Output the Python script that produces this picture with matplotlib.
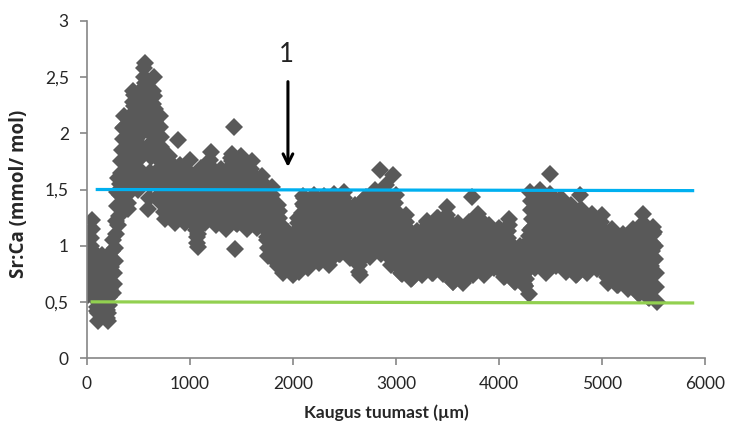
import numpy as np
import matplotlib
matplotlib.use("Agg")
import matplotlib.pyplot as plt

plt.rcParams['font.family'] = ['Lato', 'DejaVu Sans']

# Sr:Ca (mmol/mol) along the transect, one spot every 5 um starting at 5 um
# (one line = 100 um)
sr_ca = [
    0.56, 0.64, 0.71, 0.78, 0.86, 0.93, 1.00, 1.07, 1.15, 1.23, 0.95, 0.89, 0.83, 0.76, 0.70, 0.64, 0.58, 0.52, 0.45, 0.42,
    0.33, 0.40, 0.46, 0.53, 0.60, 0.66, 0.72, 0.79, 0.85, 0.92, 0.90, 0.83, 0.76, 0.70, 0.63, 0.56, 0.50, 0.43, 0.36, 0.33,
    0.40, 0.47, 0.54, 0.61, 0.68, 0.74, 0.81, 0.88, 0.95, 1.05, 0.58, 0.66, 0.76, 0.86, 0.98, 1.10, 1.22, 1.35, 1.48, 1.60,
    1.18, 1.26, 1.35, 1.45, 1.55, 1.65, 1.75, 1.85, 1.95, 2.05, 2.15, 2.06, 1.96, 1.86, 1.77, 1.67, 1.57, 1.48, 1.38, 1.33,
    1.47, 1.57, 1.67, 1.78, 1.88, 1.97, 2.07, 2.17, 2.28, 2.38, 2.34, 2.24, 2.14, 2.04, 1.94, 1.85, 1.75, 1.65, 1.55, 1.50,
    1.57, 1.67, 1.78, 1.88, 1.99, 2.08, 2.19, 2.29, 2.40, 2.50, 2.58, 2.63, 2.45, 2.34, 2.24, 2.13, 2.03, 1.33, 1.83, 1.62,
    1.42, 1.54, 1.66, 1.79, 1.91, 2.02, 2.14, 2.26, 2.38, 2.50, 2.33, 2.22, 2.11, 2.00, 1.89, 1.78, 1.67, 1.56, 1.45, 1.40,
    2.15, 2.06, 1.97, 1.88, 1.79, 1.70, 1.60, 1.50, 1.40, 1.30, 1.24, 1.30, 1.37, 1.43, 1.50, 1.56, 1.62, 1.69, 1.75, 1.80,
    1.67, 1.62, 1.56, 1.51, 1.45, 1.39, 1.34, 1.28, 1.23, 1.20, 1.22, 1.28, 1.34, 1.40, 1.46, 1.52, 1.94, 1.60, 1.66, 1.72,
    1.65, 1.60, 1.55, 1.49, 1.44, 1.39, 1.33, 1.28, 1.23, 1.20, 1.22, 1.27, 1.33, 1.38, 1.44, 1.49, 1.55, 1.60, 1.66, 1.76,
    1.61, 1.56, 1.51, 1.46, 1.41, 1.36, 1.31, 1.26, 1.21, 1.18, 1.20, 1.14, 1.08, 1.02, 0.99, 1.10, 1.25, 1.38, 1.50, 1.63,
    1.69, 1.63, 1.58, 1.52, 1.46, 1.40, 1.34, 1.29, 1.23, 1.20, 1.22, 1.29, 1.36, 1.43, 1.50, 1.56, 1.63, 1.70, 1.76, 1.83,
    1.70, 1.64, 1.58, 1.52, 1.46, 1.41, 1.35, 1.29, 1.23, 1.20, 1.18, 1.24, 1.29, 1.35, 1.40, 1.46, 1.51, 1.57, 1.62, 1.68,
    1.63, 1.58, 1.52, 1.46, 1.41, 1.35, 1.29, 1.24, 1.18, 1.15, 1.18, 1.25, 1.32, 1.38, 1.45, 1.51, 1.58, 1.65, 1.71, 1.78,
    1.82, 1.75, 1.68, 1.61, 1.54, 2.06, 0.97, 1.40, 1.30, 1.20, 1.19, 1.26, 1.33, 1.40, 1.46, 1.53, 1.60, 1.67, 1.73, 1.80,
    1.77, 1.70, 1.63, 1.55, 1.48, 1.41, 1.33, 1.26, 1.19, 1.15, 1.16, 1.23, 1.29, 1.36, 1.43, 1.49, 1.55, 1.62, 1.68, 1.75,
    1.64, 1.59, 1.53, 1.47, 1.42, 1.36, 1.30, 1.25, 1.19, 1.16, 1.17, 1.22, 1.27, 1.32, 1.37, 1.42, 1.47, 1.52, 1.57, 1.62,
    1.55, 1.49, 1.43, 1.37, 1.31, 1.26, 1.20, 1.14, 1.08, 1.05, 0.91, 0.98, 1.05, 1.12, 1.19, 1.25, 1.32, 1.38, 1.45, 1.52,
    1.40, 1.33, 1.26, 1.19, 1.12, 1.06, 0.99, 0.92, 0.85, 0.82, 1.36, 1.31, 1.25, 1.19, 1.13, 1.07, 1.00, 0.94, 0.86, 0.78,
    0.76, 0.80, 0.84, 0.88, 0.92, 0.96, 1.00, 1.04, 1.08, 1.12, 1.11, 1.07, 1.02, 0.98, 0.93, 0.89, 0.85, 0.80, 0.76, 0.74,
    0.76, 0.82, 0.87, 0.93, 0.98, 1.03, 1.09, 1.14, 1.20, 1.25, 0.77, 0.85, 0.92, 1.00, 1.07, 1.14, 1.22, 1.29, 1.37, 1.44,
    1.42, 1.35, 1.28, 1.20, 1.13, 1.06, 0.98, 0.91, 0.84, 0.80, 0.85, 0.92, 0.99, 1.05, 1.12, 1.18, 1.25, 1.32, 1.38, 1.45,
    1.40, 1.34, 1.27, 1.21, 1.15, 1.08, 1.02, 0.96, 0.89, 0.86, 0.85, 0.92, 0.98, 1.05, 1.12, 1.18, 1.24, 1.31, 1.37, 1.44,
    1.41, 1.34, 1.27, 1.20, 1.13, 1.07, 1.00, 0.93, 0.86, 0.83, 0.87, 0.94, 1.00, 1.07, 1.14, 1.20, 1.26, 1.33, 1.39, 1.46,
    1.40, 1.35, 1.29, 1.24, 1.18, 1.12, 1.07, 1.01, 0.96, 0.93, 0.93, 0.99, 1.05, 1.12, 1.18, 1.23, 1.30, 1.36, 1.42, 1.48,
    1.38, 1.33, 1.27, 1.21, 1.16, 1.10, 1.04, 0.99, 0.93, 0.90, 0.89, 0.94, 1.00, 1.05, 1.10, 1.15, 1.20, 1.25, 1.31, 1.36,
    1.25, 1.19, 1.13, 1.07, 1.01, 0.95, 0.89, 0.83, 0.77, 0.74, 0.86, 0.92, 0.98, 1.05, 1.11, 1.17, 1.23, 1.29, 1.36, 1.42,
    1.43, 1.37, 1.30, 1.24, 1.18, 1.12, 1.06, 0.99, 0.93, 0.90, 0.93, 0.99, 1.06, 1.12, 1.19, 1.24, 1.31, 1.37, 1.44, 1.50,
    1.48, 1.41, 1.35, 1.28, 1.21, 1.15, 1.08, 1.67, 0.96, 0.93, 0.94, 1.01, 1.08, 1.14, 1.21, 1.27, 1.34, 1.41, 1.47, 1.54,
    1.43, 1.36, 1.30, 1.23, 1.17, 1.11, 1.04, 0.98, 0.91, 0.88, 0.83, 0.90, 0.97, 1.63, 1.11, 1.17, 1.24, 1.31, 1.38, 1.45,
    1.31, 1.24, 1.18, 1.11, 1.05, 0.99, 0.92, 0.86, 0.79, 0.76, 0.75, 0.81, 0.87, 0.93, 0.98, 1.04, 1.10, 1.15, 1.21, 1.27,
    1.16, 1.11, 1.05, 1.00, 0.95, 0.89, 0.84, 0.78, 0.73, 0.70, 0.71, 0.75, 0.80, 0.85, 0.89, 0.94, 0.98, 1.03, 1.07, 1.12,
    1.13, 1.08, 1.04, 0.99, 0.94, 0.90, 0.85, 0.81, 0.76, 0.74, 0.79, 0.84, 0.89, 0.93, 0.98, 1.02, 1.07, 1.12, 1.17, 1.22,
    1.21, 1.16, 1.11, 1.05, 1.00, 0.95, 0.89, 0.84, 0.79, 0.76, 0.76, 0.82, 0.87, 0.93, 0.98, 1.03, 1.09, 1.14, 1.20, 1.25,
    1.25, 1.19, 1.14, 1.08, 1.02, 0.97, 0.91, 0.85, 0.80, 0.77, 0.75, 0.82, 0.88, 0.95, 1.02, 1.08, 1.14, 1.21, 1.27, 1.34,
    1.23, 1.16, 1.10, 1.03, 0.97, 0.91, 0.84, 0.78, 0.71, 0.68, 0.68, 0.74, 0.80, 0.86, 0.91, 0.97, 1.03, 1.08, 1.14, 1.20,
    1.10, 1.05, 1.00, 0.95, 0.90, 0.85, 0.80, 0.75, 0.70, 0.67, 0.69, 0.74, 0.79, 0.84, 0.90, 0.94, 1.00, 1.05, 1.10, 1.15,
    1.21, 1.15, 1.10, 1.04, 0.98, 0.93, 0.87, 1.43, 0.77, 0.74, 0.76, 0.82, 0.88, 0.94, 1.00, 1.05, 1.11, 1.17, 1.22, 1.28,
    1.25, 1.19, 1.13, 1.07, 1.01, 0.95, 0.89, 0.83, 0.77, 0.74, 0.77, 0.81, 0.86, 0.90, 0.95, 0.99, 1.04, 1.08, 1.13, 1.18,
    1.09, 1.06, 1.02, 0.99, 0.95, 0.92, 0.89, 0.85, 0.82, 0.80, 0.81, 0.84, 0.88, 0.92, 0.96, 0.99, 1.03, 1.07, 1.10, 1.14,
    1.16, 1.11, 1.06, 1.01, 0.95, 0.90, 0.85, 0.80, 0.75, 0.72, 0.73, 0.79, 0.84, 0.90, 0.96, 1.01, 1.07, 1.13, 1.18, 1.24,
    1.02, 0.98, 0.94, 0.90, 0.86, 0.83, 0.79, 0.75, 0.71, 0.69, 0.68, 0.71, 0.75, 0.79, 0.82, 0.85, 0.89, 0.93, 0.96, 1.00,
    0.97, 0.93, 0.89, 0.85, 0.81, 0.78, 0.74, 0.70, 0.66, 0.64, 0.64, 0.70, 0.77, 0.83, 0.90, 0.96, 1.03, 1.09, 0.57, 1.14,
    1.48, 1.40, 1.32, 1.24, 1.16, 1.08, 1.00, 0.92, 0.84, 0.80, 0.86, 0.93, 1.00, 1.07, 1.14, 1.21, 1.28, 1.35, 1.42, 1.50,
    1.41, 1.34, 1.27, 1.20, 1.13, 1.05, 0.98, 0.91, 0.84, 0.80, 0.76, 0.84, 0.91, 0.99, 1.07, 1.14, 1.22, 1.30, 1.64, 1.46,
    1.41, 1.34, 1.27, 1.20, 1.13, 1.06, 0.99, 0.92, 0.85, 0.82, 0.86, 0.92, 0.99, 1.05, 1.11, 1.17, 1.23, 1.29, 1.36, 1.42,
    1.33, 1.27, 1.21, 1.15, 1.09, 1.03, 0.97, 0.91, 0.85, 0.82, 0.77, 0.84, 0.90, 0.97, 1.04, 1.10, 1.16, 1.23, 1.29, 1.36,
    1.29, 1.22, 1.16, 1.09, 1.03, 0.97, 0.90, 0.84, 0.77, 0.74, 0.75, 0.81, 0.88, 0.94, 1.00, 1.07, 1.45, 1.20, 1.26, 1.33,
    1.25, 1.19, 1.14, 1.08, 1.02, 0.96, 0.91, 0.85, 0.79, 0.76, 0.79, 0.84, 0.90, 0.95, 1.00, 1.06, 1.11, 1.17, 1.22, 1.28,
    1.23, 1.18, 1.13, 1.08, 1.03, 0.98, 0.93, 0.88, 0.83, 0.80, 0.79, 0.84, 0.90, 0.95, 1.00, 1.05, 1.11, 1.16, 1.21, 1.27,
    1.16, 1.11, 1.06, 1.01, 0.95, 0.90, 0.85, 0.80, 0.75, 0.72, 0.67, 0.72, 0.78, 0.83, 0.88, 0.93, 0.99, 1.04, 1.10, 1.15,
    1.08, 1.03, 0.98, 0.93, 0.88, 0.83, 0.78, 0.73, 0.68, 0.65, 0.65, 0.70, 0.75, 0.80, 0.85, 0.90, 0.95, 1.00, 1.05, 1.10,
    1.03, 0.98, 0.93, 0.88, 0.83, 0.79, 0.74, 0.69, 0.64, 0.62, 0.61, 0.66, 0.71, 0.76, 0.82, 0.86, 0.92, 0.97, 1.02, 1.08,
    1.15, 1.08, 1.01, 0.95, 0.88, 0.81, 0.75, 0.68, 0.61, 0.58, 0.57, 0.65, 0.73, 0.81, 0.89, 0.96, 1.04, 1.12, 1.20, 1.28,
    1.16, 1.09, 1.02, 0.94, 0.87, 0.80, 0.72, 0.65, 0.58, 0.54, 0.53, 0.60, 0.67, 0.75, 0.82, 0.88, 0.95, 1.02, 1.10, 1.17,
    1.12, 1.00, 0.88, 0.76, 0.63, 0.50,
]
step_um = 5
dist = np.arange(1, len(sr_ca) + 1) * step_um

# reference levels
upper_x = [100, 5880]
upper_y = [1.50, 1.49]
lower_x = [50, 5880]
lower_y = [0.50, 0.49]

fig = plt.figure(figsize=(7.31, 4.30), dpi=100)
ax = fig.add_axes([0.119, 0.1674, 0.8454, 0.7838])

ax.plot(dist, sr_ca, linestyle='none', marker='D', markersize=9.2,
        color='#595959', markeredgewidth=0, zorder=2)
ax.plot(upper_x, upper_y, color='#00B0F0', linewidth=2.3, zorder=3)
ax.plot(lower_x, lower_y, color='#92D050', linewidth=2.3, zorder=3)

# arrow marking zone 1
ax.annotate('', xy=(1951, 1.70), xytext=(1951, 2.46),
            arrowprops=dict(arrowstyle='->,head_length=0.7,head_width=0.35',
                            color='black', lw=2.2, shrinkA=0, shrinkB=0))
ax.text(1940, 2.7, '1', fontsize=18.5, color='#222222', ha='center', va='center')

ax.set_xlim(0, 6000)
ax.set_ylim(0, 3)
ax.set_xticks(range(0, 6001, 1000))
yt = [0, 0.5, 1, 1.5, 2, 2.5, 3]
ax.set_yticks(yt)
ax.set_yticklabels([('%g' % v).replace('.', ',') for v in yt])

for s in ['top', 'right']:
    ax.spines[s].set_visible(False)
for s in ['left', 'bottom']:
    ax.spines[s].set_color('#868686')
    ax.spines[s].set_linewidth(1.2)
ax.tick_params(axis='both', direction='out', length=5, width=1.2,
               color='#868686', labelsize=12.5, labelcolor='#262626', pad=8)

fig.text(0.528, 0.04, 'Kaugus tuumast (\u00b5m)', ha='center', va='center',
         fontsize=12.5, fontweight='bold', color='#262626')
fig.text(0.026, 0.55, 'Sr:Ca (mmol/ mol)', ha='center', va='center',
         rotation=90, fontsize=13.5, fontweight='bold', color='#262626',
         family=['Open Sans', 'DejaVu Sans'])

fig.savefig('out.png', dpi=100)
